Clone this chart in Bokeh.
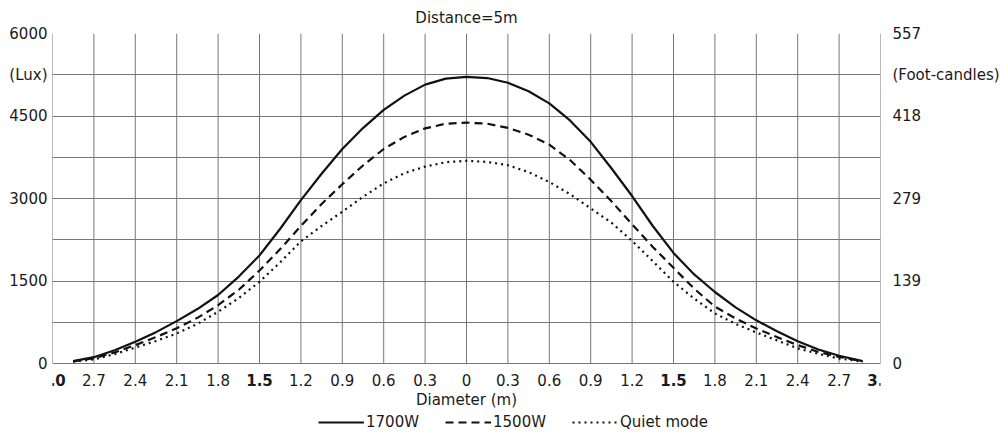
from bokeh.plotting import figure
from bokeh.models import FixedTicker, LinearAxis, Legend, LegendItem, Range1d
from bokeh.core.properties import value
from bokeh.embed import file_html
from bokeh.resources import INLINE

# ---------------- data ----------------
diameter = [-2.85, -2.7, -2.55, -2.4, -2.25, -2.1, -1.95, -1.8, -1.65, -1.5, -1.35, -1.2, -1.05,
            -0.9, -0.75, -0.6, -0.45, -0.3, -0.15, 0.0, 0.15, 0.3, 0.45, 0.6, 0.75, 0.9, 1.05,
            1.2, 1.35, 1.5, 1.65, 1.8, 1.95, 2.1, 2.25, 2.4, 2.55, 2.7, 2.87]
lux_1700w = [44, 115, 240, 395, 570, 770, 990, 1245, 1580, 1965, 2450, 2970, 3450,
             3900, 4280, 4610, 4870, 5070, 5180, 5212, 5190, 5105, 4950, 4730, 4420, 4030, 3550,
             3045, 2500, 2010, 1620, 1300, 1020, 785, 585, 405, 255, 140, 44]
lux_1500w = [40, 95, 200, 335, 480, 640, 830, 1060, 1340, 1690, 2080, 2500, 2900,
             3260, 3600, 3900, 4120, 4275, 4360, 4380, 4360, 4285, 4160, 3980, 3700, 3340, 2950,
             2530, 2120, 1740, 1360, 1035, 820, 636, 480, 335, 210, 120, 40]
lux_quiet = [35, 75, 170, 290, 410, 545, 720, 940, 1190, 1485, 1840, 2220, 2500,
             2760, 3030, 3275, 3460, 3580, 3660, 3685, 3665, 3605, 3480, 3300, 3080, 2820, 2560,
             2230, 1860, 1485, 1180, 910, 720, 564, 420, 275, 175, 90, 35]
series_names = ["1700W", "1500W", "Quiet mode"]

x_ticks = [-3.0, -2.7, -2.4, -2.1, -1.8, -1.5, -1.2, -0.9, -0.6, -0.3, 0.0,
           0.3, 0.6, 0.9, 1.2, 1.5, 1.8, 2.1, 2.4, 2.7, 3.0]
x_tick_labels = ["3.0", "2.7", "2.4", "2.1", "1.8", "1.5", "1.2", "0.9", "0.6", "0.3", "0",
                 "0.3", "0.6", "0.9", "1.2", "1.5", "1.8", "2.1", "2.4", "2.7", "3.0"]
bold_x_ticks = [-3.0, -1.5, 1.5, 3.0]
x_title = "Diameter (m)"

y_grid = [0, 750, 1500, 2250, 3000, 3750, 4500, 5250, 6000]
lux_ticks = [0, 1500, 3000, 4500, 5250, 6000]
lux_labels = ["0", "1500", "3000", "4500", "(Lux)", "6000"]
fc_labels = ["0", "139", "279", "418", "(Foot-candles)", "557"]

# ---------------- layout / style ----------------
FONT = "DejaVu Sans"
TXT = "#1a1a1a"
GRID = "#777777"
TICK_SIZE = "15px"
Y_MAX = 6000
PLOT_PX = 330                 # pixel height of the 0..6000 lux area
BELOW_PX = 75                 # room under the 0 line for x labels, title and legend
LUX_PER_PX = Y_MAX / PLOT_PX

p = figure(frame_width=828, frame_height=PLOT_PX + BELOW_PX, output_backend="svg",
           toolbar_location=None, x_axis_location=None,
           x_range=Range1d(-3, 3), y_range=Range1d(-BELOW_PX * LUX_PER_PX, Y_MAX),
           min_border_left=52, min_border_top=32, min_border_right=120, min_border_bottom=0)

p.title.text = "Distance=5m"
p.title.align = "center"
p.title.text_font = FONT
p.title.text_font_size = "15px"
p.title.text_font_style = "normal"
p.title.text_color = TXT
p.title.standoff = 13

p.outline_line_color = None
p.background_fill_color = "white"
p.border_fill_color = "white"
p.xgrid.visible = False
p.ygrid.ticker = FixedTicker(ticks=y_grid)
p.ygrid.grid_line_color = GRID
p.ygrid.grid_line_width = 1
p.ygrid.bounds = (-3, 3)

# vertical grid lines, limited to the lux area
p.segment(x0=x_ticks, y0=[0] * len(x_ticks), x1=x_ticks, y1=[Y_MAX] * len(x_ticks),
          line_color=GRID, line_width=1)


def style_axis(ax, standoff):
    ax.major_label_standoff = standoff
    ax.major_label_text_font = FONT
    ax.major_label_text_font_size = TICK_SIZE
    ax.major_label_text_color = TXT
    ax.axis_line_color = None
    ax.major_tick_line_color = None
    ax.minor_tick_line_color = None
    ax.major_tick_out = 0
    ax.major_tick_in = 0


# left axis (lux)
ya = p.yaxis[0]
ya.ticker = FixedTicker(ticks=lux_ticks)
ya.major_label_overrides = {t: l for t, l in zip(lux_ticks, lux_labels)}
style_axis(ya, 5)

# right axis (foot-candles)
ra = LinearAxis(ticker=FixedTicker(ticks=lux_ticks),
                major_label_overrides={t: l for t, l in zip(lux_ticks, fc_labels)})
style_axis(ra, 12)
p.add_layout(ra, "right")

# x tick labels and title, placed under the 0 line through the same scales
label_y = -16 * LUX_PER_PX
title_y = -36 * LUX_PER_PX
norm_x = [t for t in x_ticks if t not in bold_x_ticks]
norm_lbl = [l for t, l in zip(x_ticks, x_tick_labels) if t not in bold_x_ticks]
bold_x = [t for t in x_ticks if t in bold_x_ticks]
bold_lbl = [l for t, l in zip(x_ticks, x_tick_labels) if t in bold_x_ticks]

p.text(x=norm_x, y=[label_y] * len(norm_x), text=norm_lbl, text_font=value(FONT),
       text_font_size="15px", text_align="center", text_baseline="middle", text_color=TXT)
p.text(x=bold_x, y=[label_y] * len(bold_x), text=bold_lbl, text_font=value(FONT),
       text_font_size="15px", text_font_style="bold", text_align="center",
       text_baseline="middle", text_color=TXT)
p.text(x=[0], y=[title_y], text=[x_title], text_font=value(FONT), text_font_size="15px",
       text_align="center", text_baseline="middle", text_color=TXT)

# curves
r1 = p.line(diameter, lux_1700w, line_color="#111111", line_width=2.2)
r2 = p.line(diameter, lux_1500w, line_color="#111111", line_width=2.2, line_dash="8 5")
r3 = p.line(diameter, lux_quiet, line_color="#111111", line_width=2.2, line_dash="2 4")

legend = Legend(items=[LegendItem(label=series_names[0], renderers=[r1]),
                       LegendItem(label=series_names[1], renderers=[r2]),
                       LegendItem(label=series_names[2], renderers=[r3])],
                orientation="horizontal", location=(266, 4),
                glyph_width=46, glyph_height=24, label_height=24, label_standoff=2, spacing=26,
                padding=0, margin=0, border_line_color=None, background_fill_alpha=0,
                label_text_font=FONT, label_text_font_size="15px", label_text_color=TXT)
p.add_layout(legend)

open("out.html", "w").write(file_html(p, INLINE))
